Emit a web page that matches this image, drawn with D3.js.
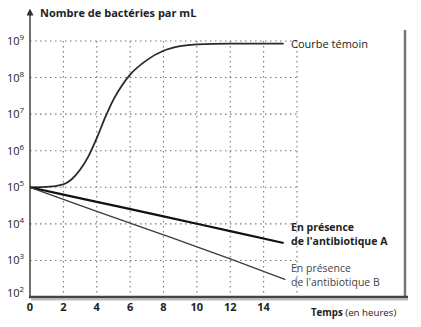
<!DOCTYPE html>
<html>
<head>
<meta charset="utf-8">
<script src="https://cdn.jsdelivr.net/npm/d3@7"></script>
<style>
  body { margin: 0; background: #fff; }
  text { font-family: "Open Sans", "Noto Sans", sans-serif; fill: #222; }
  .grid line { stroke: #777; stroke-width: 1.1; stroke-dasharray: 1.5,3.5; }
</style>
</head>
<body>
<div id="chart"></div>
<script>
// hours
const timeTicks = [0, 2, 4, 6, 8, 10, 12, 14];
const gridHours = [2, 4, 6, 8, 10, 12, 14, 16];
const powerTicks = [2, 3, 4, 5, 6, 7, 8, 9];

// Courbe témoin
const controlHours = [0, 1, 2, 2.5, 3, 3.5, 4, 4.5, 5, 5.5, 6, 7, 8, 9, 10, 12, 15.2];
const controlValues = [1e5, 1.02e5, 1.2e5, 1.66e5, 3e5, 7e5, 2.2e6, 8e6, 2.5e7, 6e7, 1.2e8, 3e8, 5.4e8, 7.2e8, 8.1e8, 8.5e8, 8.5e8];

// antibiotique A
const abAHours = [0, 4, 8, 12, 15.2];
const abAValues = [1e5, 4e4, 1.6e4, 6.3e3, 3e3];

// antibiotique B
const abBHours = [0, 4, 8, 12, 15.3];
const abBValues = [1e5, 2.2e4, 5e3, 1.1e3, 3e2];

const width = 421, height = 327;
const svg = d3.select('#chart').append('svg')
    .attr('width', width)
    .attr('height', height);

const x = d3.scaleLinear().domain([0, 16]).range([30, 297]);
const y = d3.scaleLog().domain([1e2, 1e9]).range([297, 41]);

// grid
const grid = svg.append('g').attr('class', 'grid');
grid.selectAll('.v')
    .data(gridHours)
  .join('line')
    .attr('class', 'v')
    .attr('x1', d => x(d)).attr('x2', d => x(d))
    .attr('y1', y(1e9)).attr('y2', y(1e2));
grid.selectAll('.h')
    .data(powerTicks.filter(p => p > 2))
  .join('line')
    .attr('class', 'h')
    .attr('x1', x(0)).attr('x2', x(16))
    .attr('y1', d => y(Math.pow(10, d))).attr('y2', d => y(Math.pow(10, d)));

// right frame edge
svg.append('line')
    .attr('x1', 405).attr('x2', 405)
    .attr('y1', 30).attr('y2', 296)
    .attr('stroke', '#777').attr('stroke-width', 2.5);

// axes
const defs = svg.append('defs');
defs.append('marker')
    .attr('id', 'arrow')
    .attr('viewBox', '0 0 10 10')
    .attr('refX', 8).attr('refY', 5)
    .attr('markerWidth', 5).attr('markerHeight', 5)
    .attr('orient', 'auto')
  .append('path')
    .attr('d', 'M0,0L10,5L0,10z')
    .attr('fill', '#333');

svg.append('line')
    .attr('x1', 30).attr('x2', 30)
    .attr('y1', 298).attr('y2', 10)
    .attr('stroke', '#333').attr('stroke-width', 1.4)
    .attr('marker-end', 'url(#arrow)');

svg.append('line')
    .attr('x1', 31).attr('x2', 408)
    .attr('y1', 299.5).attr('y2', 299.5)
    .attr('stroke', '#bbb').attr('stroke-width', 2);
svg.append('line')
    .attr('x1', 29).attr('x2', 408)
    .attr('y1', 297).attr('y2', 297)
    .attr('stroke', '#444').attr('stroke-width', 2.5);

// y tick labels 10^n
const yLab = svg.append('g').selectAll('text')
    .data(powerTicks)
  .join('text')
    .attr('x', 7)
    .attr('y', d => y(Math.pow(10, d)) + (d === 2 ? 0 : 4))
    .attr('font-size', 11);
yLab.append('tspan').text('10');
yLab.append('tspan')
    .attr('dy', -5)
    .attr('font-size', 8)
    .text(d => d);

// x tick labels
svg.append('g').selectAll('text')
    .data(timeTicks)
  .join('text')
    .attr('x', d => x(d))
    .attr('y', 311)
    .attr('text-anchor', 'middle')
    .attr('font-size', 11)
    .attr('font-weight', 'bold')
    .text(d => d);

// titles
svg.append('text')
    .attr('x', 40).attr('y', 17)
    .attr('font-size', 11)
    .attr('font-weight', 'bold')
    .text('Nombre de bactéries par mL');

const xt = svg.append('text')
    .attr('x', 311).attr('y', 316)
    .attr('font-size', 9.7);
xt.append('tspan').attr('font-weight', 'bold').text('Temps');
xt.append('tspan').text(' (en heures)');

// curves
const line = d3.line()
    .x(d => x(d[0]))
    .y(d => y(d[1]))
    .curve(d3.curveMonotoneX);

svg.append('path')
    .datum(d3.zip(controlHours, controlValues))
    .attr('d', line)
    .attr('fill', 'none')
    .attr('stroke', '#2a2a2a')
    .attr('stroke-width', 1.8);

svg.append('path')
    .datum(d3.zip(abAHours, abAValues))
    .attr('d', line)
    .attr('fill', 'none')
    .attr('stroke', '#111')
    .attr('stroke-width', 2.2);

svg.append('path')
    .datum(d3.zip(abBHours, abBValues))
    .attr('d', line)
    .attr('fill', 'none')
    .attr('stroke', '#3a3a3a')
    .attr('stroke-width', 1.3);

// curve labels
svg.append('text')
    .attr('x', 291).attr('y', 48)
    .attr('font-size', 11)
    .attr('fill', '#333')
    .text('Courbe témoin');

const labA = svg.append('text')
    .attr('font-size', 10.5)
    .attr('font-weight', 'bold');
labA.append('tspan').attr('x', 291).attr('y', 231).text('En présence');
labA.append('tspan').attr('x', 291).attr('y', 245).text('de l\'antibiotique A');

const labB = svg.append('text')
    .attr('font-size', 10.5)
    .style('fill', '#444');
labB.append('tspan').attr('x', 291).attr('y', 272).text('En présence');
labB.append('tspan').attr('x', 291).attr('y', 286).text('de l\'antibiotique B');
</script>
</body>
</html>
